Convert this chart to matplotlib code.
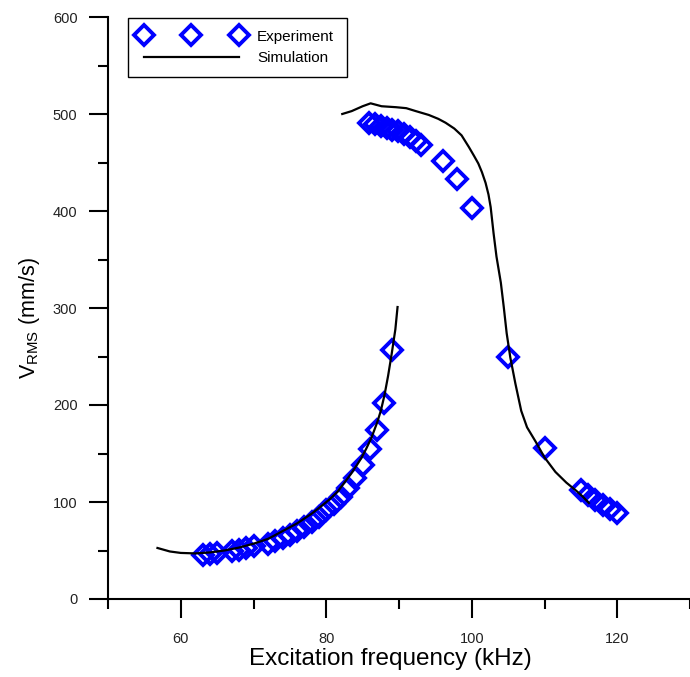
import matplotlib
matplotlib.use("Agg")
import matplotlib.pyplot as plt
from matplotlib.ticker import MultipleLocator

plt.rcParams['font.family'] = ['Liberation Sans', 'DejaVu Sans']

# Experiment - lower branch
exp_lo_x = [63, 64, 65, 67, 68, 69, 70, 72, 73, 74, 75, 76, 77, 78, 79, 80, 81, 82, 83, 84, 85, 86, 87, 88, 89]
exp_lo_y = [45, 46, 47, 49, 51, 53, 55, 57, 60, 63, 66, 70, 74, 79, 85, 92, 98, 105, 114, 125, 138, 155, 174, 202, 257]
# Experiment - upper branch
exp_hi_x = [85.9, 86.7, 87.5, 88.3, 89.1, 89.9, 90.7, 91.5, 92.3, 93.0, 96, 98, 100, 105, 110,
            115, 116, 117, 118, 119, 120]
exp_hi_y = [491, 490, 488, 486, 484, 482, 479, 476, 472, 468, 452, 433, 403, 250, 156,
            112, 107, 102, 97, 93, 89]

# Simulation - lower branch
sim_lo_x = [56.8, 58.5, 60, 62, 64, 66, 68, 70, 72, 74, 76, 78, 79.2, 80.5, 81.6, 82.5, 83.4, 84.2,
            84.8, 85.5, 86.2, 87, 87.5, 88, 88.5, 89, 89.5, 89.8]
sim_lo_y = [52.6, 49, 47.5, 47, 48, 50, 53, 57, 62, 70, 78, 88, 95, 103, 111, 120, 129, 138,
            145, 155, 166, 182, 194, 210, 230, 253, 278, 301]
# Simulation - upper branch
sim_hi_x = [82.2, 83.5, 85, 86.1, 87.6, 89.6, 91, 92.3, 94.1, 95.4, 96.4, 97.6, 98.6, 99.6, 100.3,
            100.9, 101.4, 101.9, 102.3, 102.6, 103.0, 103.4, 104.0, 104.4, 104.8, 105.3, 106.0,
            106.8, 107.6, 108.8, 110.0, 111.5, 113, 114.3, 115.2, 116.1]
sim_hi_y = [500, 503, 508, 511, 508, 507, 506, 503, 499, 495, 491, 485, 478, 466, 457,
            449, 440, 429, 417, 404, 377, 353, 326, 301, 274, 249, 222,
            194, 177, 162, 146, 131, 120, 112, 106, 99]

fig = plt.figure(figsize=(6.9, 6.77), dpi=100)
ax = fig.add_axes([108/690, 78/677, 582/690, 582/677])

mk = dict(marker='D', markersize=10, markerfacecolor='none', markeredgecolor='#0000FF',
          markeredgewidth=2.8, linestyle='none')
ax.plot(exp_lo_x, exp_lo_y, label='Experiment', **mk)
ax.plot(exp_hi_x, exp_hi_y, **mk)
ax.plot(sim_lo_x, sim_lo_y, color='black', lw=1.6, label='Simulation')
ax.plot(sim_hi_x, sim_hi_y, color='black', lw=1.6)

ax.set_xlim(50, 130)
ax.set_ylim(0, 600)
ax.xaxis.set_major_locator(MultipleLocator(20))
ax.xaxis.set_minor_locator(MultipleLocator(10))
ax.yaxis.set_major_locator(MultipleLocator(100))
ax.yaxis.set_minor_locator(MultipleLocator(50))
ax.set_xticks([60, 80, 100, 120])

for s in ['top', 'right']:
    ax.spines[s].set_visible(False)
for s in ['left', 'bottom']:
    ax.spines[s].set_linewidth(1.5)
ax.tick_params(which='major', direction='out', length=14, width=1.5, labelsize=10.5,
               colors='black', labelcolor='#222222', pad=10)
ax.tick_params(which='minor', direction='out', length=7, width=1.5)
ax.tick_params(axis='y', which='major', pad=8)

ax.set_xlabel('Excitation frequency (kHz)', fontsize=17.5)
ax.xaxis.set_label_coords(0.4845, -0.084)
ax.set_ylabel(r'$\mathregular{V_{RMS}}$ (mm/s)', fontsize=15.5)
ax.yaxis.set_label_coords(-0.113, 0.483)

leg = ax.legend(loc='upper left', bbox_to_anchor=(0.034, 0.8, 219/582, 0.198), mode='expand',
                borderaxespad=0, numpoints=3, handlelength=6.8, fontsize=11, frameon=True,
                fancybox=False, edgecolor='black', framealpha=1, borderpad=0.75,
                labelspacing=0.5, handletextpad=0.9)
leg.get_frame().set_linewidth(1.0)

fig.savefig('out.png', dpi=100)
